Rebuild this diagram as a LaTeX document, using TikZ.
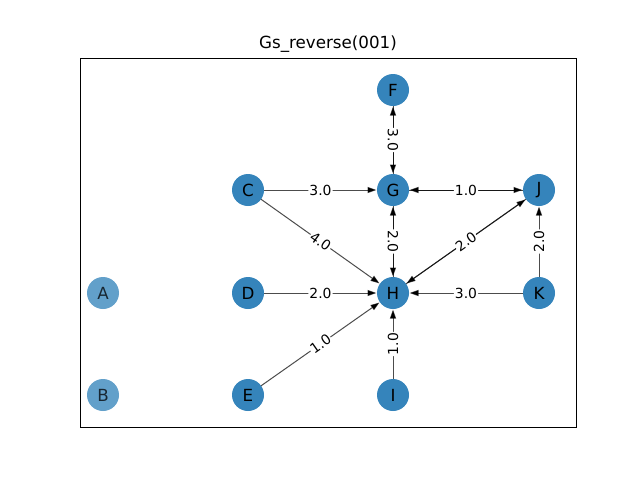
\documentclass[tikz,border=0pt]{standalone}
\usepackage{fontspec}
\setmainfont{DejaVu Sans}
\usetikzlibrary{arrows.meta}
\definecolor{nodeblue}{HTML}{1F77B4}
\tikzset{
  vtx/.style={circle, fill=nodeblue, fill opacity=0.9, text opacity=1, draw=none,
    minimum size=32pt, inner sep=0pt, outer sep=0pt, font=\fontsize{16.7}{18}\selectfont},
  vtxlight/.style={vtx, fill opacity=0.7, text opacity=0.75},
  edg/.style={draw=black, draw opacity=0.7, line width=1pt,
    -{Triangle[length=9pt,width=6pt]}, shorten >=0.5pt},
  elab/.style={fill=white, inner sep=1pt, rounded corners=2pt, text=black,
    font=\fontsize{13.9}{15}\selectfont, sloped=false}
}
\begin{document}
\begin{tikzpicture}[x=1pt,y=-1pt]
\useasboundingbox (0,0) rectangle (640,480);
\node[font=\fontsize{16.7}{18}\selectfont] (title) at (328,44) {Gs\_reverse(001)};
\draw[line width=1pt] (80,58) rectangle (576,427);
\node[vtxlight] (A) at (103,293) {A};
\node[vtxlight] (B) at (103,395) {B};
\node[vtx] (C) at (248,190) {C};
\node[vtx] (D) at (248,293) {D};
\node[vtx] (E) at (248,395) {E};
\node[vtx] (F) at (393,90) {F};
\node[vtx] (G) at (393,190) {G};
\node[vtx] (H) at (393,293) {H};
\node[vtx] (I) at (393,395) {I};
\node[vtx] (J) at (539,190) {J};
\node[vtx] (K) at (539,293) {K};
% edges
\draw[edg] (C) -- (G);
\draw[edg] (C) -- (H);
\draw[edg] (D) -- (H);
\draw[edg] (E) -- (H);
\draw[edg] (I) -- (H);
\draw[edg] (K) -- (H);
\draw[edg] (K) -- (J);
\draw[edg] (F) -- (G);
\draw[edg] (G) -- (F);
\draw[edg] (G) -- (J);
\draw[edg] (J) -- (G);
\draw[edg] (G) -- (H);
\draw[edg] (H) -- (G);
\draw[edg] (H) -- (J);
\draw[edg] (J) -- (H);
% labels
\path (C) -- (G) node[midway, elab] (lCG) {3.0};
\path (C) -- (H) node[midway, elab, rotate=-35.4] (lCH) {4.0};
\path (D) -- (H) node[midway, elab] (lDH) {2.0};
\path (E) -- (H) node[midway, elab, rotate=35.1] (lEH) {1.0};
\path (I) -- (H) node[midway, elab, rotate=90] (lIH) {1.0};
\path (K) -- (H) node[midway, elab] (lKH) {3.0};
\path (K) -- (J) node[midway, elab, rotate=90] (lKJ) {2.0};
\path (F) -- (G) node[midway, elab, rotate=-90] (lFG) {3.0};
\path (G) -- (J) node[midway, elab] (lGJ) {1.0};
\path (G) -- (H) node[midway, elab, rotate=-90] (lGH) {2.0};
\path (H) -- (J) node[midway, elab, rotate=35.2] (lHJ) {2.0};
\end{tikzpicture}
\end{document}
